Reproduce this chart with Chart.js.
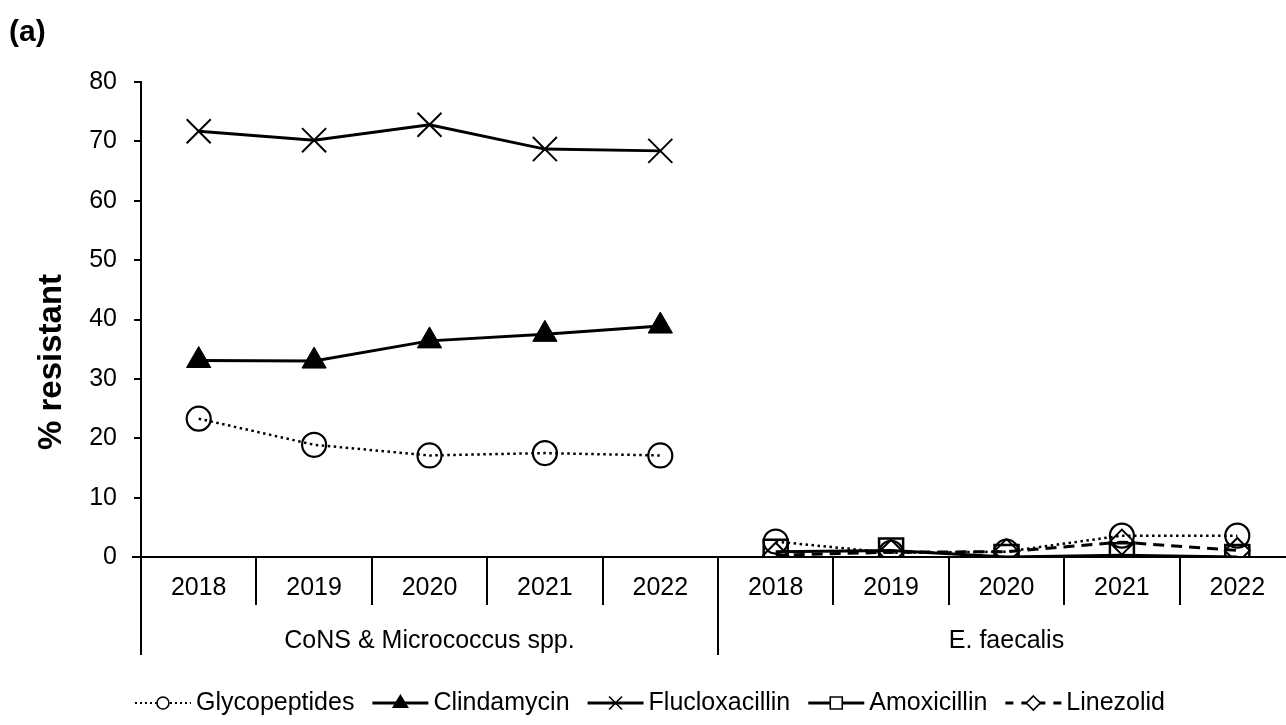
<!DOCTYPE html>
<html>
<head>
<meta charset="utf-8">
<script src="https://cdn.jsdelivr.net/npm/chart.js@4.4.1/dist/chart.umd.min.js"></script>
<style>
  html, body { margin: 0; padding: 0; background: #fff; overflow: hidden; }
  #wrap { position: absolute; left: 0; top: 0; width: 1300px; height: 725px; }
</style>
</head>
<body>
<div id="wrap"><canvas id="c" width="1300" height="725"></canvas></div>
<script>
// Category axis: two organism groups, five years each
const years = ['2018', '2019', '2020', '2021', '2022', '2018', '2019', '2020', '2021', '2022'];
const groups = ['CoNS & Micrococcus spp.', 'E. faecalis'];

// % resistant per antibiotic (null where not tested for that organism)
const glycopeptides  = [23.3, 18.9, 17.1, 17.5, 17.1, 2.6, 0.7, 0.9, 3.6, 3.6];
const clindamycin    = [33.1, 33.0, 36.4, 37.5, 38.9, null, null, null, null, null];
const flucloxacillin = [71.7, 70.2, 72.8, 68.7, 68.4, null, null, null, null, null];
const amoxicillin    = [null, null, null, null, null, 0.9, 1.1, 0.0, 0.3, 0.0];
const linezolid      = [null, null, null, null, null, 0.3, 0.8, 0.9, 2.5, 1.1];

const yMin = 0, yMax = 80, yStep = 10;

const FONT = '"Liberation Sans", Arial, Helvetica, sans-serif';
const groupSize = years.length / groups.length;

// marker drawing used by the legend
function drawMarker(ctx, kind, x, y, s) {
  ctx.save();
  ctx.setLineDash([]);
  ctx.strokeStyle = '#000';
  ctx.fillStyle = '#000';
  ctx.lineWidth = 1.6;
  ctx.beginPath();
  if (kind === 'circle') {
    ctx.arc(x, y, s, 0, Math.PI * 2);
    ctx.fillStyle = '#fff'; ctx.fill(); ctx.stroke();
  } else if (kind === 'triangle') {
    ctx.moveTo(x, y - s * 1.05);
    ctx.lineTo(x + s, y + s * 0.6);
    ctx.lineTo(x - s, y + s * 0.6);
    ctx.closePath(); ctx.fill();
  } else if (kind === 'crossRot') {
    ctx.moveTo(x - s, y - s); ctx.lineTo(x + s, y + s);
    ctx.moveTo(x + s, y - s); ctx.lineTo(x - s, y + s);
    ctx.stroke();
  } else if (kind === 'rect') {
    ctx.rect(x - s, y - s, 2 * s, 2 * s);
    ctx.fillStyle = '#fff'; ctx.fill(); ctx.stroke();
  } else if (kind === 'rectRot') {
    ctx.moveTo(x, y - s); ctx.lineTo(x + s, y); ctx.lineTo(x, y + s); ctx.lineTo(x - s, y);
    ctx.closePath(); ctx.fillStyle = '#fff'; ctx.fill(); ctx.stroke();
  }
  ctx.restore();
}

const legendMarkerSize = { circle: 6, triangle: 8.5, crossRot: 6.5, rect: 6, rectRot: 7 };

// multi-level category labels, separators, axis line, legend and titles
const decor = {
  id: 'decor',
  afterDraw(chart) {
    const { ctx, chartArea: a, scales: { x } } = chart;
    const step = x.getPixelForValue(1) - x.getPixelForValue(0);
    ctx.save();
    ctx.strokeStyle = '#000';
    ctx.lineWidth = 2;

    // horizontal axis line
    ctx.beginPath();
    ctx.moveTo(a.left - 9, a.bottom);
    ctx.lineTo(chart.width, a.bottom);
    ctx.stroke();

    // cell separators
    for (let i = 0; i <= years.length; i++) {
      const px = Math.round(x.getPixelForValue(i) - step / 2);
      const isGroupEdge = i % groupSize === 0;
      ctx.beginPath();
      ctx.moveTo(px, a.bottom);
      ctx.lineTo(px, a.bottom + (isGroupEdge ? 98 : 48));
      ctx.stroke();
    }

    // year labels
    ctx.fillStyle = '#000';
    ctx.font = '25px ' + FONT;
    ctx.textAlign = 'center';
    ctx.textBaseline = 'middle';
    years.forEach((yr, i) => ctx.fillText(yr, x.getPixelForValue(i), a.bottom + 31));

    // group labels
    groups.forEach((g, gi) => {
      const c = (x.getPixelForValue(gi * groupSize) + x.getPixelForValue(gi * groupSize + groupSize - 1)) / 2;
      ctx.fillText(g, c, a.bottom + 84);
    });

    // legend
    const symW = 56, symGap = 5, itemGap = 18, ly = 703;
    const items = chart.data.datasets.map(ds => ({ ds, tw: ctx.measureText(ds.label).width }));
    const total = items.reduce((s, it) => s + symW + symGap + it.tw, 0) + itemGap * (items.length - 1);
    let lx = chart.width / 2 - total / 2;
    items.forEach(({ ds, tw }) => {
      ctx.save();
      ctx.lineWidth = ds.legendLineWidth;
      ctx.setLineDash(ds.legendDash);
      ctx.lineCap = 'butt';
      ctx.beginPath();
      ctx.moveTo(lx, ly);
      ctx.lineTo(lx + symW, ly);
      ctx.stroke();
      ctx.restore();
      drawMarker(ctx, ds.pointStyle, lx + symW / 2, ly, legendMarkerSize[ds.pointStyle]);
      ctx.textAlign = 'left';
      ctx.fillText(ds.label, lx + symW + symGap, ly);
      lx += symW + symGap + tw + itemGap;
    });

    // y-axis title
    ctx.save();
    ctx.translate(52, 362);
    ctx.rotate(-Math.PI / 2);
    ctx.font = 'bold 33px ' + FONT;
    ctx.textAlign = 'center';
    ctx.fillText('% resistant', 0, 0);
    ctx.restore();

    // panel tag
    ctx.font = 'bold 30px ' + FONT;
    ctx.textAlign = 'left';
    ctx.fillText('(a)', 9, 33);
    ctx.restore();
  }
};

const base = {
  borderColor: '#000',
  pointBorderColor: '#000',
  pointBackgroundColor: 'rgba(0,0,0,0)',
  tension: 0,
  spanGaps: false,
  fill: false
};

new Chart(document.getElementById('c'), {
  type: 'line',
  data: {
    labels: years,
    datasets: [
      Object.assign({}, base, {
        label: 'Glycopeptides', data: glycopeptides, order: 5,
        borderWidth: 2.5, borderDash: [2.5, 3.5],
        pointStyle: 'circle', pointRadius: 12, pointBorderWidth: 2.2,
        segment: { borderColor: c => (c.p0DataIndex === groupSize - 1 ? 'rgba(0,0,0,0)' : undefined) },
        legendDash: [2, 3], legendLineWidth: 2
      }),
      Object.assign({}, base, {
        label: 'Clindamycin', data: clindamycin, order: 4,
        borderWidth: 3,
        pointStyle: 'triangle', pointRadius: 14, pointBorderWidth: 1,
        pointBackgroundColor: '#000',
        legendDash: [], legendLineWidth: 3
      }),
      Object.assign({}, base, {
        label: 'Flucloxacillin', data: flucloxacillin, order: 3,
        borderWidth: 3,
        pointStyle: 'crossRot', pointRadius: 17, pointBorderWidth: 2,
        legendDash: [], legendLineWidth: 3
      }),
      Object.assign({}, base, {
        label: 'Amoxicillin', data: amoxicillin, order: 2,
        borderWidth: 3,
        pointStyle: 'rect', pointRadius: 17, pointBorderWidth: 2.5,
        legendDash: [], legendLineWidth: 3
      }),
      Object.assign({}, base, {
        label: 'Linezolid', data: linezolid, order: 1,
        borderWidth: 3, borderDash: [11, 7],
        pointStyle: 'rectRot', pointRadius: 12.5, pointBorderWidth: 2,
        legendDash: [8, 8], legendLineWidth: 3
      })
    ]
  },
  options: {
    responsive: false,
    animation: false,
    devicePixelRatio: 1,
    events: [],
    layout: { autoPadding: false, padding: { top: 82, right: 5, left: 0, bottom: 0 } },
    plugins: { legend: { display: false }, tooltip: { enabled: false } },
    scales: {
      x: {
        type: 'category',
        offset: true,
        grid: { display: false },
        border: { display: false },
        ticks: { display: false },
        afterFit: s => { s.height = 168; }
      },
      y: {
        min: yMin, max: yMax,
        ticks: { stepSize: yStep, color: '#000', padding: 17, font: { family: FONT, size: 25 } },
        grid: { drawOnChartArea: false, tickLength: 7, color: '#000', lineWidth: 2 },
        border: { display: true, color: '#000', width: 2 },
        afterFit: s => { s.width = 141; }
      }
    }
  },
  plugins: [decor]
});
</script>
</body>
</html>
